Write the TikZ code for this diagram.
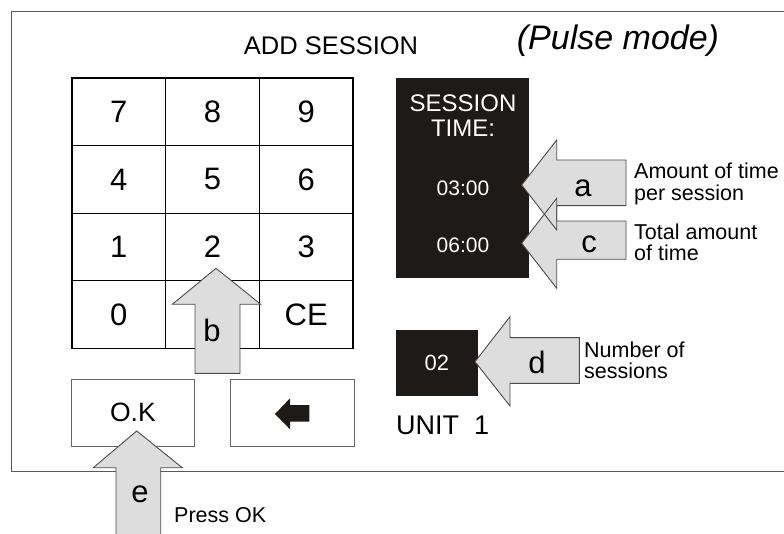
\documentclass[tikz,border=0pt]{standalone}
\usepackage{fontspec}
\setmainfont{Liberation Sans}
\definecolor{screenblack}{RGB}{30,26,23}
\definecolor{callgray}{RGB}{221,221,221}
\newcommand{\fsz}[1]{\fontsize{#1}{#1}\selectfont}
\tikzset{
  keycell/.style={draw=black, line width=1.3pt, minimum width=93.7pt, minimum height=67.6pt, inner sep=0pt, font=\fsz{31}},
  softkey/.style={draw=gray!80!black, line width=0.9pt, inner sep=0pt},
  blackbox/.style={fill=screenblack, text=white, inner sep=0pt},
  callout/.style={fill=callgray},
  calledge/.style={draw=gray!60!black, line width=0.9pt, line join=miter},
  letter/.style={inner sep=0pt, font=\fsz{31}},
  note/.style={inner sep=0pt, anchor=west, align=left, font=\fsz{21.5}}
}
\begin{document}
\begin{tikzpicture}[x=1pt,y=-1pt]
\useasboundingbox (0,0) rectangle (784,534);
% screen frame, open to the right
\draw[gray!70!black, line width=0.9pt] (784,11) -- (11,11) -- (11,471) -- (784,471);
\node[inner sep=0pt, font=\fsz{25.5}] (title) at (331,46) {ADD SESSION};
\node[inner sep=0pt, font=\fsz{34}\itshape] (mode) at (618,41) {(Pulse mode)};
% keypad
\foreach \lab/\i/\j in {7/0/0,8/1/0,9/2/0,4/0/1,5/1/1,6/2/1,1/0/2,2/1/2,3/2/2,0/0/3,/1/3,CE/2/3}
  \node[keycell] (k\i\j) at (118.8+93.7*\i, 111.8+67.6*\j) {\lab};
\node[softkey, minimum width=122.3pt, minimum height=67pt, font=\fsz{26.5}] (ok) at (132.9,412.5) {O.K};
\node[softkey, minimum width=123.3pt, minimum height=67pt] (back) at (292.3,412.5) {};
\fill[screenblack] (275,414) -- (290,398.3) -- (290,405) -- (309.3,405) -- (309.3,421.7) -- (290,421.7) -- (290,429.3) -- cycle;
% display boxes
\node[blackbox, minimum width=133.3pt, minimum height=200.6pt] (timebox) at (462.4,178) {};
\node[inner sep=0pt, text=white, font=\fsz{24}, align=center] (stitle) at (463,115.5) {SESSION\\[1pt]TIME:};
\node[inner sep=0pt, text=white, font=\fsz{21}] (tper) at (463,188) {03:00};
\node[inner sep=0pt, text=white, font=\fsz{21}] (ttot) at (463,245) {06:00};
\node[blackbox, minimum width=81.7pt, minimum height=66pt, font=\fsz{22}] (count) at (436.8,363) {02};
\node[inner sep=0pt, anchor=west, font=\fsz{27}] (unit) at (396,425) {UNIT~~1};
% block arrows
\path[callout] (521.7,185) -- (556.7,140) -- (556.7,160) -- (626,160) -- (626,205.7) -- (556.7,205.7) -- (556.7,230) -- cycle;
\path[callout] (521.7,243.3) -- (556.7,198.3) -- (556.7,221) -- (626,221) -- (626,259.3) -- (556.7,259.3) -- (556.7,288.3) -- cycle;
\draw[calledge] (521.7,185) -- (556.7,140) -- (556.7,160) -- (626,160) -- (626,205.7) -- (556.7,205.7) -- (556.7,230) -- cycle;
\draw[calledge] (521.7,243.3) -- (556.7,198.3) -- (556.7,221) -- (626,221) -- (626,259.3) -- (556.7,259.3) -- (556.7,288.3) -- cycle;
\draw[callout, calledge] (475,361.7) -- (510,316.7) -- (510,337.7) -- (579.3,337.7) -- (579.3,383.3) -- (510,383.3) -- (510,406) -- cycle;
\draw[callout, calledge] (216,268.3) -- (260.7,304.3) -- (240,304.3) -- (240,373.3) -- (195,373.3) -- (195,304.3) -- (172.3,304.3) -- cycle;
\fill[callout] (136.7,431) -- (182.3,467.7) -- (160.7,467.7) -- (160.7,534) -- (116,534) -- (116,467.7) -- (93.3,467.7) -- cycle;
\draw[calledge] (116,534) -- (116,467.7) -- (93.3,467.7) -- (136.7,431) -- (182.3,467.7) -- (160.7,467.7) -- (160.7,534);
\node[letter] (la) at (583,188) {a};
\node[letter] (lc) at (589,244) {c};
\node[letter] (ld) at (537,362) {d};
\node[letter] (lb) at (212,330) {b};
\node[letter] (le) at (140,494) {e};
% notes
\node[note] (na) at (634,184) {Amount of time\\per session};
\node[note] (nc) at (634,242.5) {Total amount\\of time};
\node[note] (nd) at (584,360.5) {Number of\\sessions};
\node[note] (ne) at (174,515) {Press OK};
\end{tikzpicture}
\end{document}
